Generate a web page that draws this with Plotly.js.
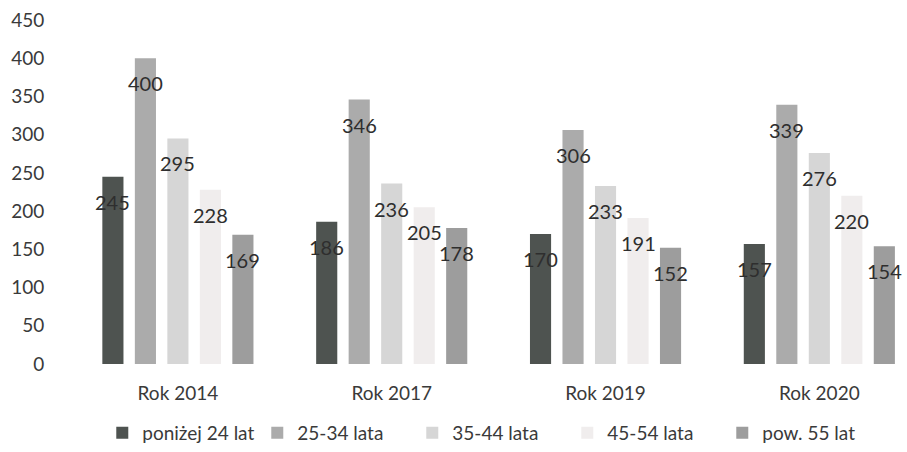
<!DOCTYPE html>
<html><head><meta charset="utf-8">
<script src="https://cdn.plot.ly/plotly-3.0.1.min.js"></script>
<style>html,body{margin:0;padding:0;background:#fff;}#chart{width:907px;height:452px;}</style>
</head><body><div id="chart"></div>
<script>
const categories = ["Rok 2014", "Rok 2017", "Rok 2019", "Rok 2020"];
const seriesNames = ["poniżej 24 lat", "25-34 lata", "35-44 lata", "45-54 lata", "pow. 55 lat"];
const under24 = [245, 186, 170, 157];
const age25_34 = [400, 346, 306, 339];
const age35_44 = [295, 236, 233, 276];
const age45_54 = [228, 205, 191, 220];
const over55 = [169, 178, 152, 154];
const yTicks = [0, 50, 100, 150, 200, 250, 300, 350, 400, 450];

const seriesValues = [under24, age25_34, age35_44, age45_54, over55];
const colors = ["#4e5350", "#ababab", "#d6d6d6", "#f0eded", "#9d9d9d"];

const W = 907, H = 452, mL = 71, mR = 0, mT = 20, mB = 88;
const xRange = [-0.5, 3.41];
const bargap = 0.24;
const catPx = (W - mL - mR) / (xRange[1] - xRange[0]);
const slotPx = catPx * (1 - bargap) / seriesValues.length;

const fam = "Lato, 'Open Sans', sans-serif";
const txtCol = "#3a3a3a";

const traces = seriesValues.map((vals, i) => ({
  type: "bar",
  name: seriesNames[i],
  x: categories,
  y: vals,
  marker: {color: colors[i], line: {width: 0}},
  hoverinfo: "none"
}));

const annotations = [];
seriesValues.forEach((vals, i) => {
  vals.forEach((v, j) => {
    annotations.push({
      x: categories[j], y: v, xref: "x", yref: "y",
      text: String(v), showarrow: false,
      xanchor: "center", yanchor: "middle",
      xshift: (i - (seriesValues.length - 1) / 2) * slotPx,
      yshift: -25,
      font: {family: fam, size: 20, color: "#2e2e2e"}
    });
  });
});

const layout = {
  width: W, height: H,
  margin: {l: mL, r: mR, t: mT, b: mB, pad: 0, autoexpand: false},
  paper_bgcolor: "#ffffff", plot_bgcolor: "#ffffff",
  barmode: "group", bargap: bargap, bargroupgap: 0.35,
  font: {family: fam, size: 19, color: txtCol},
  showlegend: true,
  legend: {orientation: "h", xref: "container", yref: "container",
           x: 0.54, xanchor: "center", y: -0.015, yanchor: "bottom",
           font: {family: fam, size: 19, color: txtCol}, itemwidth: 30,
           entrywidth: 110, entrywidthmode: "pixels",
           traceorder: "normal", bgcolor: "rgba(0,0,0,0)"},
  xaxis: {type: "category", range: xRange, showgrid: false, zeroline: false, showline: false,
          ticks: "outside", ticklen: 12, tickcolor: "rgba(0,0,0,0)",
          tickfont: {family: fam, size: 19, color: txtCol}},
  yaxis: {range: [0, 450], tickvals: yTicks, ticktext: yTicks.map(String),
          showgrid: false, zeroline: false, showline: false,
          ticks: "outside", ticklen: 22, tickcolor: "rgba(0,0,0,0)",
          tickfont: {family: fam, size: 19, color: txtCol}},
  annotations: annotations
};

Plotly.newPlot("chart", traces, layout, {staticPlot: true, displayModeBar: false});
</script></body></html>
